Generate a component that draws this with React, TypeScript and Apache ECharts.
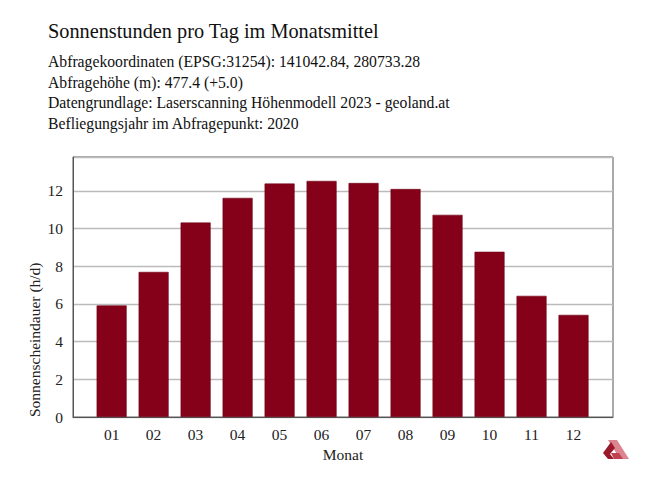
import React, { useEffect, useRef } from "react";
import * as echarts from "echarts";

const titleText = "Sonnenstunden pro Tag im Monatsmittel";
const infoLines = [
  "Abfragekoordinaten (EPSG:31254): 141042.84, 280733.28",
  "Abfragehöhe (m): 477.4 (+5.0)",
  "Datengrundlage: Laserscanning Höhenmodell 2023 - geoland.at",
  "Befliegungsjahr im Abfragepunkt: 2020",
];
const months = ["01", "02", "03", "04", "05", "06", "07", "08", "09", "10", "11", "12"];
const sunHours = [5.92, 7.7, 10.32, 11.63, 12.39, 12.53, 12.42, 12.1, 10.73, 8.77, 6.43, 5.42];
const yTicks = [0, 2, 4, 6, 8, 10, 12];

const FAMILY = "Liberation Serif";

export default function App() {
  const ref = useRef<HTMLDivElement>(null);
  useEffect(() => {
    if (!ref.current) return;
    const chart = echarts.init(ref.current, undefined, { renderer: "svg" });
    const positions = months.map((_, i) => i + 1);
    const data = sunHours.map((v, i) => [positions[i], v]);
    const infoY = [61.5, 82, 102.5, 123];
    chart.setOption({
      animation: false,
      backgroundColor: "#ffffff",
      textStyle: { fontFamily: FAMILY },
      grid: {
        left: 73,
        right: 33,
        top: 157,
        bottom: 64,
        show: true,
        borderColor: "#555555",
        borderWidth: 1,
        backgroundColor: "transparent",
      },
      xAxis: {
        type: "value",
        min: 0.08,
        max: 12.94,
        name: "Monat",
        nameLocation: "middle",
        nameGap: 25,
        nameTextStyle: { fontFamily: FAMILY, fontSize: 15.5, color: "#222" },
        axisLine: { show: true, lineStyle: { color: "#555555", width: 1 } },
        axisTick: { show: false },
        splitLine: { show: false },
        axisLabel: {
          customValues: positions,
          formatter: (v: number) => months[Math.round(v) - 1] ?? "",
          fontFamily: FAMILY,
          fontSize: 15.5,
          color: "#222",
          margin: 9,
        },
      },
      yAxis: {
        type: "value",
        min: 0,
        max: 13.8,
        interval: 2,
        axisLine: { show: true, lineStyle: { color: "#555555", width: 1 } },
        axisTick: { show: false },
        axisLabel: {
          customValues: yTicks,
          fontFamily: FAMILY,
          fontSize: 15.5,
          color: "#222",
          margin: 10,
        },
        splitLine: { show: true, lineStyle: { color: "#bbbbbb", width: 1.3 } },
      },
      series: [
        {
          type: "bar",
          data,
          barWidth: 30,
          itemStyle: { color: "#850019", borderColor: "#6e0014", borderWidth: 0.6 },
        },
      ],
      graphic: [
        {
          type: "text",
          x: 48,
          y: 31,
          style: { text: titleText, fontFamily: FAMILY, fontSize: 20.3, fill: "#111", verticalAlign: "middle", align: "left" },
        },
        ...infoLines.map((t, i) => ({
          type: "text",
          x: 48,
          y: infoY[i],
          style: { text: t, fontFamily: FAMILY, fontSize: 15.7, fill: "#111", verticalAlign: "middle", align: "left" },
        })),
        {
          type: "text",
          x: 34,
          y: 417,
          rotation: Math.PI / 2,
          style: {
            text: "Sonnenscheindauer (h/d)",
            fontFamily: FAMILY,
            fontSize: 15.5,
            fill: "#222",
            align: "left",
            verticalAlign: "middle",
          },
        },
        {
          type: "group",
          children: [
            {
              type: "polygon",
              shape: { points: [[608, 440], [617, 440], [629, 459], [620, 459]] },
              style: { fill: "#dc8590" },
            },
            {
              type: "polygon",
              shape: { points: [[603, 453], [611, 442], [615, 448], [610, 454], [614, 459], [608, 459]] },
              style: { fill: "#9a1a2c" },
            },
            {
              type: "polygon",
              shape: { points: [[611, 453], [619, 453], [623, 459], [614, 459]] },
              style: { fill: "#c0404f" },
            },
          ],
        },
      ],
    });
    return () => chart.dispose();
  }, []);
  return <div ref={ref} style={{ width: 646, height: 481, position: "absolute", left: 0, top: 0 }} />;
}
